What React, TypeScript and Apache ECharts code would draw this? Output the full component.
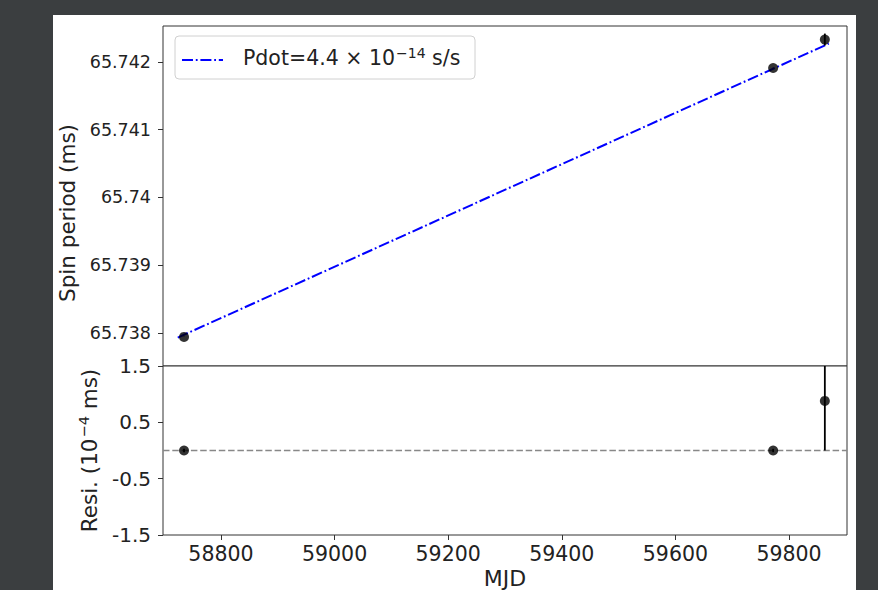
import React, { useEffect, useRef } from "react";
import * as echarts from "echarts";

const xTicks = [58800, 59000, 59200, 59400, 59600, 59800];
const periodTicks = [65.738, 65.739, 65.74, 65.741, 65.742];
const resiTicks = [-1.5, -0.5, 0.5, 1.5];

const mjd = [58735, 59772, 59863];
const period = [65.73794, 65.74191, 65.74233];
const periodErr = [0.000003, 0.000003, 0.000088];
const resid = [0, 0, 0.88];
const residErr = [0.03, 0.03, 0.88];

const fitMjd = [58724, 59870];
const fitPeriod = [65.73793, 65.74227];

const FONT = "DejaVu Sans";
const DASHDOT = [11, 2.8, 1.8, 2.8];

function errRender(params: any, api: any) {
  const x = api.value(0);
  const y = api.value(1);
  const e = api.value(2);
  const p1 = api.coord([x, y - e]);
  const p2 = api.coord([x, y + e]);
  return {
    type: "line",
    shape: { x1: p1[0], y1: p1[1], x2: p2[0], y2: p2[1] },
    style: { stroke: "#000", lineWidth: 1.8 },
  };
}

export default function App() {
  const ref = useRef<HTMLDivElement>(null);
  useEffect(() => {
    if (!ref.current) return;
    const chart = echarts.init(ref.current, null, { renderer: "svg" });
    const xMin = 58698;
    const xMax = 59902;
    const tick = { show: true, length: 5, lineStyle: { color: "#333", width: 1 } };
    chart.setOption({
      animation: false,
      backgroundColor: "#3b3e40",
      textStyle: { fontFamily: FONT },
      graphic: [
        {
          type: "rect",
          z: -10,
          shape: { x: 53, y: 15, width: 803, height: 580 },
          style: { fill: "#ffffff" },
        },
        {
          type: "rect",
          z: 100,
          shape: { x: 175, y: 36, width: 300, height: 43, r: 4 },
          style: { fill: "rgba(255,255,255,0.85)", stroke: "#d0d0d0", lineWidth: 1 },
        },
        {
          type: "line",
          z: 101,
          shape: { x1: 182, y1: 60, x2: 223, y2: 60 },
          style: { stroke: "#0000ff", lineWidth: 2, lineDash: DASHDOT },
        },
        {
          type: "text",
          z: 101,
          x: 243,
          y: 58,
          style: {
            text: "{n|Pdot=4.4 × 10}{s|−14}{n| s/s}",
            verticalAlign: "middle",
            rich: {
              n: { fontSize: 20.5, fontFamily: FONT, fill: "#222" },
              s: { fontSize: 14, fontFamily: FONT, fill: "#222", padding: [0, 0, 11, 1] },
            },
          },
        },
      ],
      grid: [
        { left: 163, top: 26, width: 684, height: 340, show: true, borderColor: "#333", borderWidth: 1, backgroundColor: "#fff" },
        { left: 163, top: 366, width: 684, height: 169, show: true, borderColor: "#333", borderWidth: 1, backgroundColor: "#fff" },
      ],
      xAxis: [
        {
          type: "value",
          gridIndex: 0,
          min: xMin,
          max: xMax,
          axisLine: { show: false, onZero: false },
          axisTick: { show: false },
          axisLabel: { show: false },
          splitLine: { show: false },
        },
        {
          type: "value",
          gridIndex: 1,
          min: xMin,
          max: xMax,
          axisLine: { show: false, onZero: false },
          axisTick: { ...tick, customValues: xTicks },
          axisLabel: {
            customValues: xTicks,
            color: "#222",
            fontSize: 20.5,
            fontFamily: FONT,
            margin: 8,
            formatter: (v: number) => String(v),
          },
          splitLine: { show: false },
          name: "MJD",
          nameLocation: "middle",
          nameGap: 32,
          nameTextStyle: { fontSize: 22, color: "#222", fontFamily: FONT },
        },
      ],
      yAxis: [
        {
          type: "value",
          gridIndex: 0,
          min: 65.73751,
          max: 65.74253,
          axisLine: { show: false, onZero: false },
          axisTick: { ...tick, customValues: periodTicks },
          axisLabel: {
            customValues: periodTicks,
            color: "#222",
            fontSize: 17.5,
            fontFamily: FONT,
            margin: 12,
            formatter: (v: number) => String(parseFloat(v.toFixed(3))),
          },
          splitLine: { show: false },
          name: "Spin period (ms)",
          nameLocation: "middle",
          nameRotate: 90,
          nameGap: 78,
          nameTextStyle: {
            fontSize: 21.5,
            color: "#222",
            fontFamily: FONT,
            padding: [0, 34, 0, 0],
          },
        },
        {
          type: "value",
          gridIndex: 1,
          min: -1.5,
          max: 1.5,
          axisLine: { show: false, onZero: false },
          axisTick: { ...tick, customValues: resiTicks },
          axisLabel: {
            customValues: resiTicks,
            color: "#222",
            fontSize: 20,
            fontFamily: FONT,
            margin: 12,
            formatter: (v: number) => String(v),
          },
          splitLine: { show: false },
          name: "{n|Resi. (10}{s|−4}{n| ms)}",
          nameLocation: "middle",
          nameRotate: 90,
          nameGap: 61,
          nameTextStyle: {
            color: "#222",
            rich: {
              n: { fontSize: 21.5, fontFamily: FONT, color: "#222" },
              s: { fontSize: 14.5, fontFamily: FONT, color: "#222", padding: [0, 0, 11, 1] },
            },
          },
        },
      ],
      series: [
        {
          type: "line",
          name: "fit",
          xAxisIndex: 0,
          yAxisIndex: 0,
          data: fitMjd.map((x, i) => [x, fitPeriod[i]]),
          symbol: "none",
          lineStyle: { color: "#0000ff", width: 2, type: DASHDOT },
          z: 2,
        },
        {
          type: "custom",
          xAxisIndex: 0,
          yAxisIndex: 0,
          clip: true,
          renderItem: errRender,
          data: mjd.map((x, i) => [x, period[i], periodErr[i]]),
          z: 3,
        },
        {
          type: "scatter",
          xAxisIndex: 0,
          yAxisIndex: 0,
          data: mjd.map((x, i) => [x, period[i]]),
          symbolSize: 10,
          itemStyle: { color: "#000" },
          z: 4,
        },
        {
          type: "line",
          xAxisIndex: 1,
          yAxisIndex: 1,
          data: [
            [xMin, 0],
            [xMax, 0],
          ],
          symbol: "none",
          lineStyle: { color: "#888", width: 1.6, type: [6.5, 2.8] },
          z: 2,
        },
        {
          type: "custom",
          xAxisIndex: 1,
          yAxisIndex: 1,
          clip: true,
          renderItem: errRender,
          data: mjd.map((x, i) => [x, resid[i], residErr[i]]),
          z: 3,
        },
        {
          type: "scatter",
          xAxisIndex: 1,
          yAxisIndex: 1,
          data: mjd.map((x, i) => [x, resid[i]]),
          symbolSize: 10,
          itemStyle: { color: "#000" },
          z: 4,
        },
      ],
    });
    return () => chart.dispose();
  }, []);
  return (
    <div
      ref={ref}
      style={{ position: "absolute", left: 0, top: 0, width: 878, height: 590 }}
    />
  );
}
